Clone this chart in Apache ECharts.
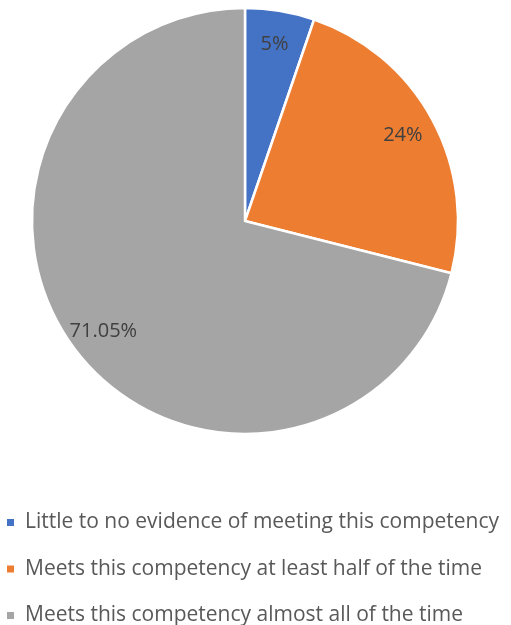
<!DOCTYPE html>
<html>
<head>
<meta charset="utf-8">
<script src="https://cdn.jsdelivr.net/npm/echarts@6/dist/echarts.min.js"></script>
<style>
  html, body { margin: 0; padding: 0; background: #fff; }
  #chart { width: 511px; height: 625px; }
</style>
</head>
<body>
<div id="chart"></div>
<script>
// competency ratings, share of respondents (%)
var categories = [
  'Little to no evidence of meeting this competency',
  'Meets this competency at least half of the time',
  'Meets this competency almost all of the time'
];
var shares = [5.26, 23.68, 71.05];
var shareLabels = ['5%', '24%', '71.05%'];
var colors = ['#4472C4', '#ED7D31', '#A5A5A5'];

var chart = echarts.init(document.getElementById('chart'));

var sliceData = categories.map(function (name, i) {
  return { name: name, value: shares[i], itemStyle: { color: colors[i] } };
});

var option = {
  backgroundColor: '#fff',
  animation: false,
  legend: {
    orient: 'vertical',
    left: 0,
    top: 512,
    height: 160,
    padding: [0, 5],
    itemWidth: 9,
    itemHeight: 9,
    itemGap: 25.5,
    icon: 'rect',
    textStyle: {
      color: '#595959', fontSize: 21, lineHeight: 21,
      fontFamily: 'Open Sans', padding: [0, 0, 0, 5]
    },
    data: categories
  },
  series: [
    {
      name: 'slices',
      type: 'pie',
      center: [245, 221],
      radius: 213,
      startAngle: 90,
      clockwise: true,
      silent: true,
      label: { show: false },
      labelLine: { show: false },
      itemStyle: { borderColor: '#fff', borderWidth: 2.5 },
      data: sliceData
    },
    {
      // transparent ring used only to place the labels near the rim
      name: 'labels',
      type: 'pie',
      center: [245, 221],
      radius: [140, 213],
      startAngle: 90,
      clockwise: true,
      silent: true,
      itemStyle: { color: 'rgba(0,0,0,0)' },
      labelLine: { show: false },
      label: {
        show: true,
        position: 'inside',
        color: '#404040',
        fontSize: 20,
        fontFamily: 'Open Sans',
        formatter: function (p) { return shareLabels[p.dataIndex]; }
      },
      data: categories.map(function (name, i) { return { name: name, value: shares[i] }; })
    }
  ]
};

chart.setOption(option);
</script>
</body>
</html>
